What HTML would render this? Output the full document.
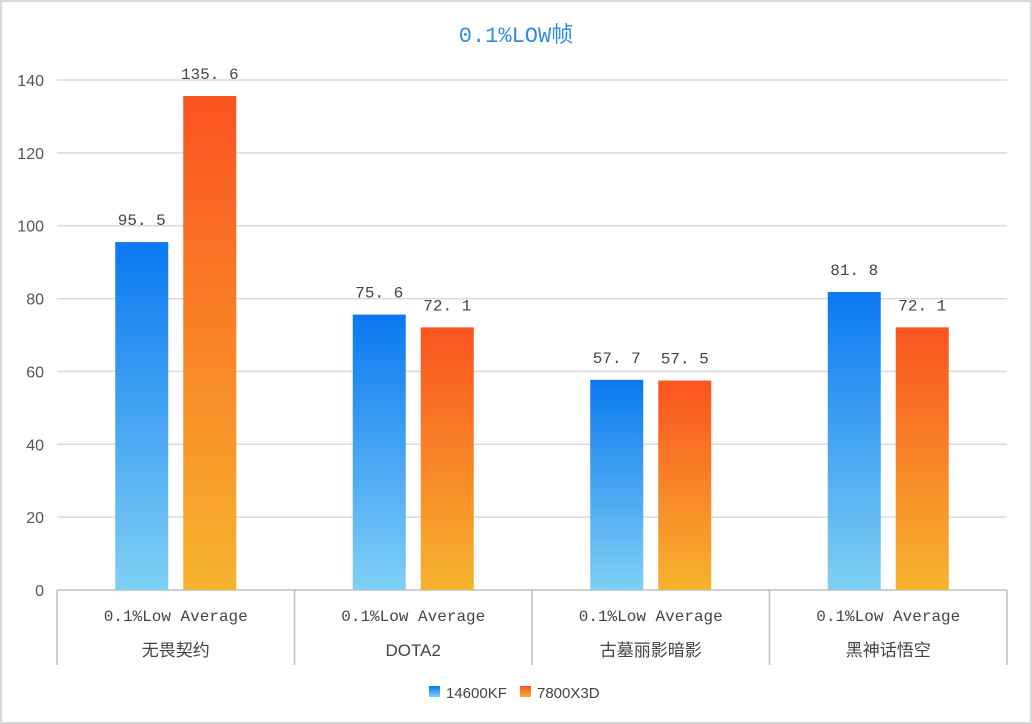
<!DOCTYPE html>
<html><head><meta charset="utf-8"><style>
body{margin:0;background:#fff}
svg{display:block;font-family:"Liberation Sans","Noto Sans CJK SC",sans-serif}
</style></head><body>
<svg id="c" width="1032" height="724" viewBox="0 0 1032 724">
<defs>
<linearGradient id="gb" x1="0" y1="0" x2="0" y2="1"><stop offset="0" stop-color="#0a78f0"/><stop offset="1" stop-color="#80d0f4"/></linearGradient>
<linearGradient id="go" x1="0" y1="0" x2="0" y2="1"><stop offset="0" stop-color="#fb5320"/><stop offset="1" stop-color="#f6b42e"/></linearGradient>
</defs>
<rect x="1" y="1" width="1030" height="722" fill="#fff" stroke="#d9d9d9" stroke-width="2"/>
<text x="516" y="42" text-anchor="middle" font-size="22" fill="#2f8ee0" font-family="Liberation Mono,'Noto Sans CJK SC',monospace">0.1%LOW帧</text>
<g id="grid"></g><g id="bars"></g><g id="xaxis"></g>
<g>
<rect x="429" y="686" width="11" height="11" fill="url(#gb)"/>
<text x="446" y="698" font-size="15" fill="#444">14600KF</text>
<rect x="520" y="686" width="11" height="11" fill="url(#go)"/>
<text x="537" y="698" font-size="15" fill="#444">7800X3D</text>
</g>
</svg>
<script>
const categories=["无畏契约","DOTA2","古墓丽影暗影","黑神话悟空"];
const s14600=[95.5,75.6,57.7,81.8];
const s7800=[135.6,72.1,57.5,72.1];
const ticks=[0,20,40,60,80,100,120,140];
const NS="http://www.w3.org/2000/svg";
const x0=57,x1=1007,y0=590,yTop=80,vmax=140;
const y=v=>y0-(v/vmax)*(y0-yTop);
const cw=(x1-x0)/categories.length;
const cx=i=>x0+cw*(i+0.5);
function mk(tag,attrs,parent,txt){const e=document.createElementNS(NS,tag);for(const k in attrs)e.setAttribute(k,attrs[k]);if(txt!=null)e.textContent=txt;document.getElementById(parent).appendChild(e);return e;}
ticks.forEach(t=>{
 const l=mk('line',{x1:x0,x2:x1,y1:y(t),y2:y(t),stroke:t===0?'#bfbfbf':'#d9d9d9','stroke-width':1.5},'grid');
 
 
 const tx=mk('text',{x:44,y:y(t)+6,'text-anchor':'end','font-size':16,fill:'#555'},'grid',t);
 
 
});
for(let i=0;i<=categories.length;i++){
 const l=mk('line',{x1:x0+cw*i,x2:x0+cw*i,y1:y0,y2:665,stroke:'#bfbfbf','stroke-width':1.5},'xaxis');
 
 
}
categories.forEach((c,i)=>{
 const a=mk('text',{x:cx(i),y:621,'text-anchor':'middle','font-size':16,fill:'#444','font-family':'Liberation Mono,monospace'},'xaxis','0.1%Low Average');
 
 
 const b=mk('text',{x:cx(i),y:656,'text-anchor':'middle','font-size':17,fill:'#444'},'xaxis',c);
 
 
 [[s14600,'url(#gb)',-60.5,'14600kf'],[s7800,'url(#go)',7.5,'7800x3d']].forEach(([s,f,off,n])=>{
  const v=s[i];
  const r=mk('rect',{x:cx(i)+off,y:y(v),width:53,height:y0-y(v),fill:f},'bars');
  
  
  const t=mk('text',{x:cx(i)+off+26.5,y:y(v)-17,'text-anchor':'middle','font-size':16,fill:'#444','font-family':'Liberation Mono,monospace'},'bars',v.toFixed(1).replace('.','. '));
  
  
 });
});
</script>
</body></html>
